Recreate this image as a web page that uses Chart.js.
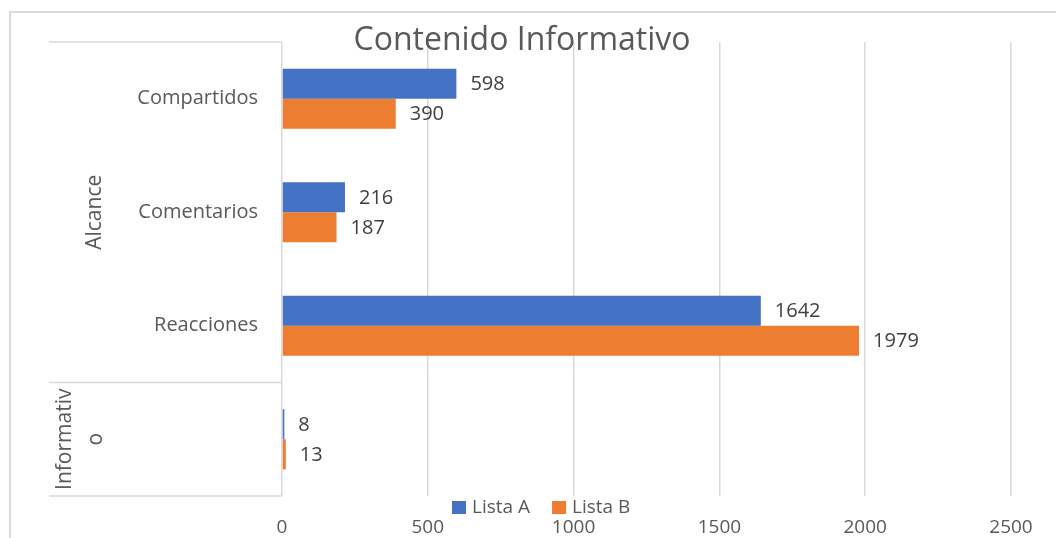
<!DOCTYPE html>
<html>
<head>
<meta charset="utf-8">
<script src="https://cdn.jsdelivr.net/npm/chart.js@4.4.1/dist/chart.umd.min.js"></script>
<style>
html,body{margin:0;padding:0;background:#fff;}
#wrap{width:1056px;height:538px;position:relative;}
</style>
</head>
<body>
<div id="wrap"><canvas id="c" width="1056" height="538"></canvas></div>
<script>
// data
const categories = ['Compartidos', 'Comentarios', 'Reacciones', ''];
const groups = [
  { label: ['Alcance'], from: 0, to: 2 },
  { label: ['Informativ', 'o'], from: 3, to: 3 }
];
const listaA = [598, 216, 1642, 8];
const listaB = [390, 187, 1979, 13];
const seriesNames = ['Lista A', 'Lista B'];
const xTicks = [0, 500, 1000, 1500, 2000, 2500];

const BLUE = '#4472c4', ORANGE = '#ed7d31';
const TXT = '#595959', LINE = '#d9d9d9';
const FONT = '"Open Sans", sans-serif';

const excelDecor = {
  id: 'excelDecor',
  afterDraw(chart) {
    const ctx = chart.ctx;
    const y = chart.scales.y, a = chart.chartArea;
    ctx.save();
    // outer frame
    ctx.strokeStyle = LINE; ctx.lineWidth = 2;
    ctx.beginPath(); ctx.moveTo(10, 540); ctx.lineTo(10, 12); ctx.lineTo(1060, 12); ctx.stroke();
    // category axis boxes
    ctx.lineWidth = 1.5;
    const half = (y.getPixelForValue(1) - y.getPixelForValue(0)) / 2;
    const bounds = [a.top];
    groups.forEach(g => bounds.push(y.getPixelForValue(g.to) + half));
    ctx.beginPath();
    bounds.forEach(b => { ctx.moveTo(49, b); ctx.lineTo(a.left, b); });
    ctx.stroke();
    // category labels
    ctx.fillStyle = TXT; ctx.font = '20px ' + FONT;
    ctx.textAlign = 'right'; ctx.textBaseline = 'middle';
    categories.forEach((c, i) => ctx.fillText(c, a.left - 24, y.getPixelForValue(i)));
    // group labels (rotated)
    ctx.font = '21px ' + FONT;
    groups.forEach(g => {
      const cy = (y.getPixelForValue(g.from) + y.getPixelForValue(g.to)) / 2;
      const n = g.label.length;
      ctx.save();
      ctx.translate(n > 1 ? 81 : 95, cy);
      ctx.rotate(-Math.PI / 2);
      ctx.textAlign = 'center';
      g.label.forEach((t, k) => ctx.fillText(t, 0, (k - (n - 1) / 2) * 31));
      ctx.restore();
    });
    // data labels
    ctx.fillStyle = '#404040'; ctx.textAlign = 'left'; ctx.font = '20px ' + FONT;
    chart.data.datasets.forEach((ds, di) => {
      chart.getDatasetMeta(di).data.forEach((bar, i) => {
        ctx.fillText(String(ds.data[i]), bar.x + 14, bar.y + 1);
      });
    });
    // title
    ctx.fillStyle = TXT; ctx.font = '32px ' + FONT; ctx.textAlign = 'center';
    ctx.fillText('Contenido Informativo', 522, 41);
    // legend
    ctx.font = '19px ' + FONT; ctx.textAlign = 'left';
    let lx = 452;
    chart.data.datasets.forEach(ds => {
      ctx.fillStyle = ds.backgroundColor;
      ctx.fillRect(lx, 501, 14, 13);
      ctx.fillStyle = TXT;
      ctx.fillText(ds.label, lx + 20, 508);
      lx += 20 + ctx.measureText(ds.label).width + 22;
    });
    ctx.restore();
  }
};

new Chart(document.getElementById('c'), {
  type: 'bar',
  data: {
    labels: categories,
    datasets: [
      { label: seriesNames[0], data: listaA, backgroundColor: BLUE },
      { label: seriesNames[1], data: listaB, backgroundColor: ORANGE }
    ]
  },
  options: {
    indexAxis: 'y',
    responsive: false,
    animation: false,
    devicePixelRatio: 1,
    layout: { padding: { left: 282, right: 45, top: 42, bottom: 0 } },
    datasets: { bar: { categoryPercentage: 0.53, barPercentage: 1.0 } },
    plugins: { legend: { display: false }, title: { display: false }, tooltip: { enabled: false } },
    scales: {
      x: {
        min: 0, max: 2500,
        afterBuildTicks: s => { s.ticks = xTicks.map(v => ({ value: v })); },
        afterFit: s => { s.height = 42; },
        grid: { color: LINE, lineWidth: 1.5, drawTicks: false },
        border: { display: false },
        ticks: { color: TXT, font: { family: FONT, size: 19 }, padding: 20, callback: v => String(v) }
      },
      y: { display: false }
    }
  },
  plugins: [excelDecor]
});
</script>
</body>
</html>
